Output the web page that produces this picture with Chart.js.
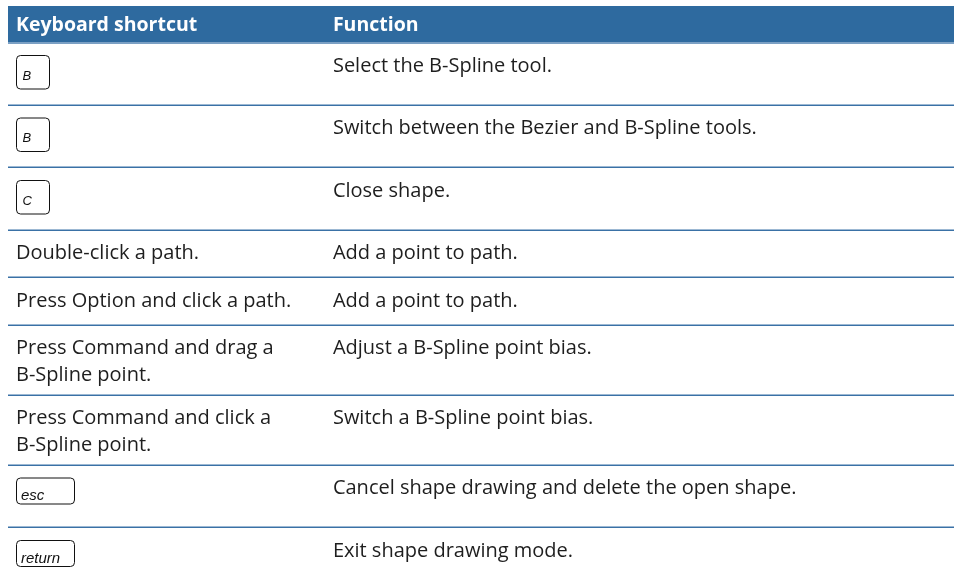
<!DOCTYPE html>
<html>
<head>
<meta charset="utf-8">
<script src="https://cdn.jsdelivr.net/npm/chart.js@4/dist/chart.umd.min.js"></script>
<style>
  html, body { margin: 0; padding: 0; background: #fff; }
  #wrap { width: 954px; height: 585px; }
</style>
</head>
<body>
<div id="wrap"><canvas id="tbl" width="954" height="585"></canvas></div>
<script>
/* ── table content ── */
const headerLabels = ['Keyboard shortcut', 'Function'];

// '[x]' = a key cap, otherwise plain text ('\n' = line break)
const shortcutCells = [
  '[B]',
  '[B]',
  '[C]',
  'Double-click a path.',
  'Press Option and click a path.',
  'Press Command and drag a\nB-Spline point.',
  'Press Command and click a\nB-Spline point.',
  '[esc]',
  '[return]'
];

const functionCells = [
  'Select the B-Spline tool.',
  'Switch between the Bezier and B-Spline tools.',
  'Close shape.',
  'Add a point to path.',
  'Add a point to path.',
  'Adjust a B-Spline point bias.',
  'Switch a B-Spline point bias.',
  'Cancel shape drawing and delete the open shape.',
  'Exit shape drawing mode.'
];

/* ── look ── */
const W = 954, H = 585, PAD_TOP = 6, PAD_LEFT = 8;
const COL_START = [0, 0.335];      // fraction of table width
const CELL_PAD = 8;
const HEADER_H = 36;
const BLUE = '#2e6a9f';
const TXT = '#1e1e1e';
const FONT = '"Open Sans", "Noto Sans", sans-serif';
const BODY_FONT = '20px ' + FONT;
const HEAD_FONT = 'bold 19.5px ' + FONT;
const KEY_FONT = 'italic 13px "Liberation Sans", Arial, sans-serif';
const WIDE_KEY_FONT = 'italic 15px "Liberation Sans", Arial, sans-serif';

const isKey = s => s.startsWith('[');
const keyLabel = s => s.slice(1, -1);

function rowHeight(i) {
  const s = shortcutCells[i];
  if (isKey(s)) return 62.5;
  return s.split('\n').length > 1 ? 70 : 47.5;
}

// row boundaries in table units (top of header = 0)
const rowEdges = [HEADER_H];
shortcutCells.forEach((_, i) => rowEdges.push(rowEdges[i] + rowHeight(i)));

function roundBox(ctx, x, y, w, h, r) {
  ctx.beginPath();
  ctx.moveTo(x + r, y);
  ctx.lineTo(x + w - r, y);
  ctx.arcTo(x + w, y, x + w, y + r, r);
  ctx.lineTo(x + w, y + h - r);
  ctx.arcTo(x + w, y + h, x + w - r, y + h, r);
  ctx.lineTo(x + r, y + h);
  ctx.arcTo(x, y + h, x, y + h - r, r);
  ctx.lineTo(x, y + r);
  ctx.arcTo(x, y, x + r, y, r);
  ctx.closePath();
}

function drawKey(ctx, label, x, top) {
  const wide = label.length > 1;
  const w = wide ? 58 : 33;
  const h = wide ? 26 : 33.5;
  roundBox(ctx, x + 0.5, top + 0.5, w, h, 4);
  ctx.strokeStyle = '#111';
  ctx.lineWidth = 1;
  ctx.stroke();
  ctx.font = wide ? WIDE_KEY_FONT : KEY_FONT;
  ctx.fillStyle = '#111';
  ctx.textAlign = 'left';
  ctx.textBaseline = 'alphabetic';
  ctx.fillText(label, x + (wide ? 5 : 6.5), top + h - (wide ? 3.5 : 9));
}

const tablePlugin = {
  id: 'tableCells',
  afterDatasetsDraw(chart) {
    const { ctx, chartArea: ca, scales: { x, y } } = chart;
    const left = ca.left, right = ca.right, w = right - left;
    const colX = COL_START.map(f => x.getPixelForValue(f) + CELL_PAD);

    ctx.save();
    // header band
    const hTop = y.getPixelForValue(0), hBot = y.getPixelForValue(HEADER_H);
    ctx.fillStyle = BLUE;
    ctx.fillRect(left, hTop, w, hBot - hTop);
    ctx.fillStyle = '#7ba0c4';
    ctx.fillRect(left, hBot, w, 2);
    ctx.font = HEAD_FONT;
    ctx.fillStyle = '#fff';
    ctx.textBaseline = 'alphabetic';
    headerLabels.forEach((t, c) => ctx.fillText(t, colX[c], hTop + 25));

    // rows
    shortcutCells.forEach((cell, i) => {
      const top = y.getPixelForValue(rowEdges[i]);
      if (i > 0) {
        const b = Math.round(top);
        ctx.fillStyle = '#9cb8d3';
        ctx.fillRect(left, b - 1, w, 1);
        ctx.fillStyle = '#3a71a6';
        ctx.fillRect(left, b, w, 1);
      }
      const base = top + 29.5;
      if (isKey(cell)) {
        drawKey(ctx, keyLabel(cell), colX[0], top + 13);
      } else {
        cell.split('\n').forEach((ln, k) => {
          ctx.font = BODY_FONT;
          ctx.fillStyle = TXT;
          ctx.fillText(ln, colX[0], base + k * 26.7);
        });
      }
      ctx.font = BODY_FONT;
      ctx.fillStyle = TXT;
      ctx.fillText(functionCells[i], colX[1], base);
    });
    ctx.restore();
  }
};

function make() {
  new Chart(document.getElementById('tbl'), {
    type: 'scatter',
    data: {
      datasets: [{
        data: shortcutCells.map((_, i) => ({ x: 0, y: (rowEdges[i] + rowEdges[i + 1]) / 2 })),
        pointRadius: 0
      }]
    },
    options: {
      responsive: false,
      animation: false,
      devicePixelRatio: 1,
      events: [],
      layout: { padding: { top: PAD_TOP, left: PAD_LEFT, right: 0, bottom: 0 } },
      plugins: { legend: { display: false }, tooltip: { enabled: false } },
      scales: {
        x: { type: 'linear', min: 0, max: 1, display: false },
        y: { type: 'linear', min: 0, max: H - PAD_TOP, reverse: true, display: false }
      }
    },
    plugins: [tablePlugin]
  });
}

Promise.all([
  document.fonts.load(BODY_FONT),
  document.fonts.load(HEAD_FONT),
  document.fonts.load(KEY_FONT)
]).then(make, make);
</script>
</body>
</html>
